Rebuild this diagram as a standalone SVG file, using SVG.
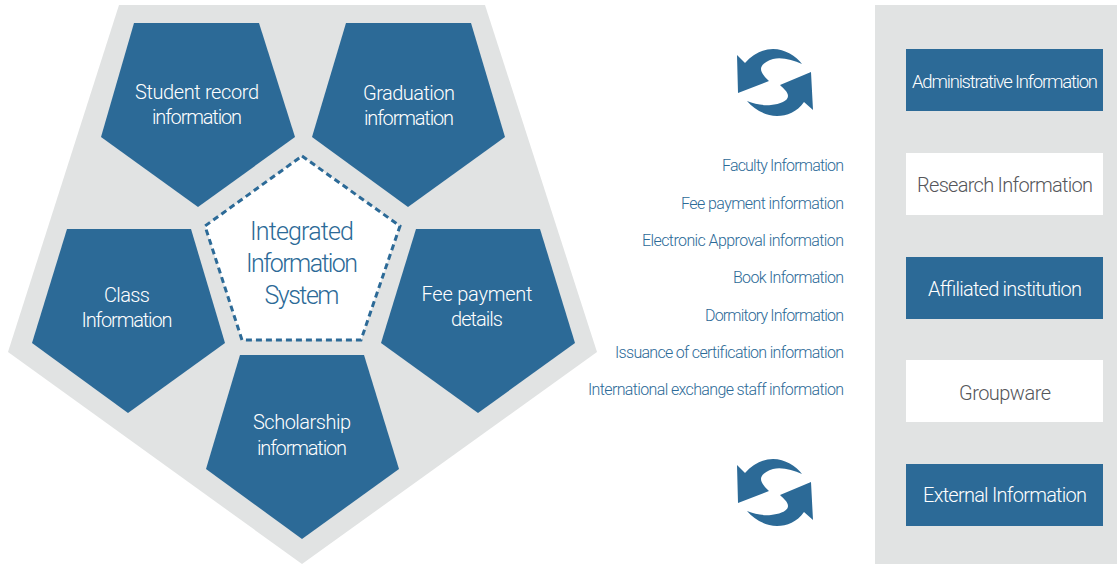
<svg xmlns="http://www.w3.org/2000/svg" width="1117" height="564" viewBox="0 0 1117 564">
<style>
text{font-family:"Roboto","Liberation Sans",sans-serif;font-weight:300;text-anchor:middle}
.p{fill:#2c6a97}
.w{fill:#fff;font-size:20px}
.a{fill:#fff;font-size:18.5px}
.d{fill:#55565a;font-size:20px}
.l{fill:#2c6a97;font-size:16px;text-anchor:end}
.c{fill:#2c6a97;font-size:25px}
.g{fill:#e1e3e3}
</style>
<defs>
<path id="sync" class="p" d="M737 55L745 63C753 54 763 49 773 49C785 49 796 56 802 64C793 60 782 57 773 59C766 61 761 65 761 69C761 73 765 77 769 81L738 93ZM811 72L813 110L804 102C797 112 787 116 777 116C765 116 754 109 747 101C755 104 764 106 771 105C780 104 788 101 788 96C788 92 784 89 780 85Z"/>
</defs>
<g id="outer-panel"><polygon class="g" points="119,5 485,5 597,352 302,564 8,352"/></g>
<g id="right-panel"><rect class="g" x="875" y="5" width="242" height="559"/></g>
<g id="node-student"><polygon class="p" points="134,23 259,23 295,137 198,207 101,137"/><text class="w" x="197" y="99" textLength="124">Student record</text><text class="w" x="197" y="124" textLength="90">information</text></g>
<g id="node-graduation"><polygon class="p" points="346,23 471,23 505,137 408,207 312,137"/><text class="w" x="409" y="100" textLength="92">Graduation</text><text class="w" x="409" y="125" textLength="90">information</text></g>
<g id="node-class"><polygon class="p" points="67,229 191,229 225,343 128,413 32,343"/><text class="w" x="127" y="302" textLength="46">Class</text><text class="w" x="127" y="327" textLength="91">Information</text></g>
<g id="node-fee"><polygon class="p" points="416,229 540,229 575,343 478,413 381,343"/><text class="w" x="477" y="301" textLength="111">Fee payment</text><text class="w" x="477" y="326" textLength="52">details</text></g>
<g id="node-scholarship"><polygon class="p" points="240,355 364,355 399,469 302,539 206,469"/><text class="w" x="302" y="429" textLength="98">Scholarship</text><text class="w" x="302" y="455" textLength="90">information</text></g>
<g id="node-center"><polygon points="302,156 400,226 361,340 242,340 205,226" fill="#fff" stroke="#2c6a97" stroke-width="3" stroke-dasharray="6 4"/><text class="c" x="302" y="240" textLength="104">Integrated</text><text class="c" x="302" y="272" textLength="112">Information</text><text class="c" x="302" y="304" textLength="75">System</text></g>
<g id="list">
<text class="l" x="844" y="171" textLength="122">Faculty Information</text>
<text class="l" x="844" y="209" textLength="163">Fee payment information</text>
<text class="l" x="844" y="246" textLength="202">Electronic Approval information</text>
<text class="l" x="844" y="283" textLength="111">Book Information</text>
<text class="l" x="844" y="321" textLength="139">Dormitory Information</text>
<text class="l" x="844" y="358" textLength="229">Issuance of certification information</text>
<text class="l" x="844" y="395" textLength="256">International exchange staff information</text>
</g>
<g id="connectors"><use href="#sync"/><use href="#sync" y="410"/></g>
<g id="node-admin"><rect class="p" x="906" y="49" width="197" height="62"/><text class="a" x="1005" y="88" textLength="186">Administrative Information</text></g>
<g id="node-research"><rect fill="#fff" x="906" y="153" width="197" height="62"/><text class="d" x="1005" y="192" textLength="176">Research Information</text></g>
<g id="node-affiliated"><rect class="p" x="906" y="257" width="197" height="62"/><text class="w" x="1005" y="296" textLength="154">Affiliated institution</text></g>
<g id="node-groupware"><rect fill="#fff" x="906" y="360" width="197" height="62"/><text class="d" x="1005" y="400" textLength="92">Groupware</text></g>
<g id="node-external"><rect class="p" x="906" y="464" width="197" height="62"/><text class="w" x="1005" y="502" textLength="164">External Information</text></g>
</svg>
